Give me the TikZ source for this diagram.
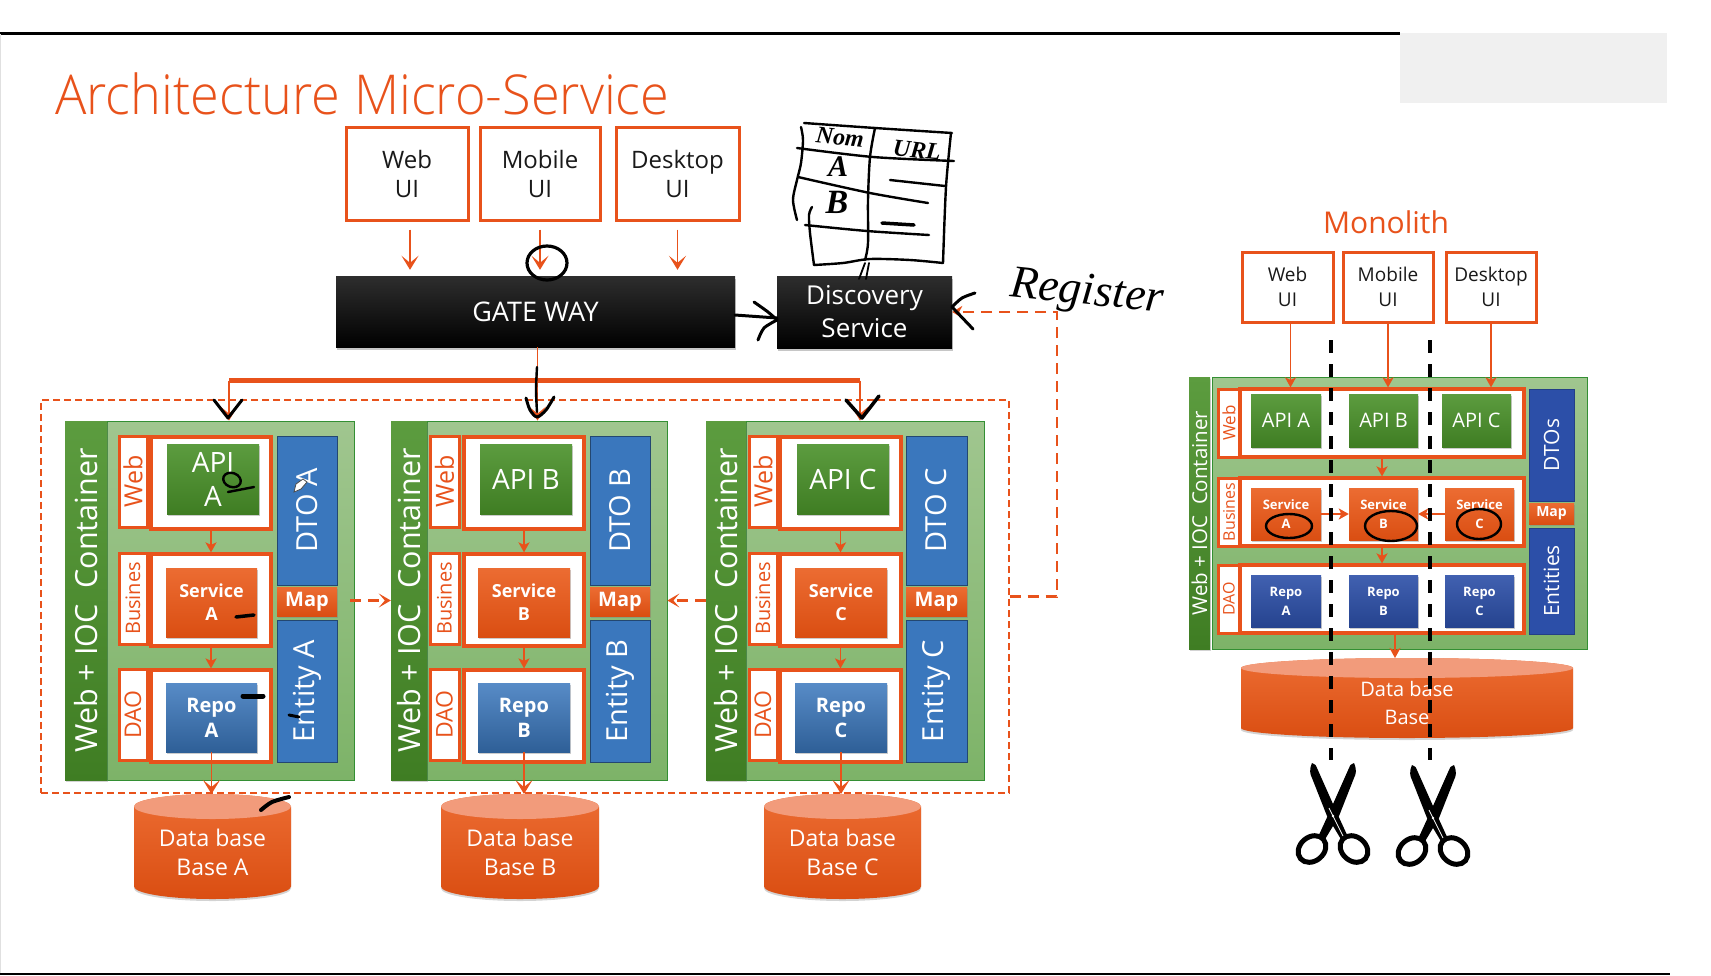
\documentclass[tikz,border=0pt]{standalone}
\usepackage{fontspec}
\usepackage{graphicx}
\setmainfont{Open Sans}
\newfontfamily\lightfont{Open Sans Light}
\newfontfamily\handfont{Liberation Serif}
\usetikzlibrary{arrows.meta,shadows}
\definecolor{msorange}{HTML}{E8521B}
\definecolor{msblue}{HTML}{3A77BD}
\definecolor{monoblue}{HTML}{2C4FA8}
\definecolor{greentop}{HTML}{5C9C3F}
\definecolor{greenlow}{HTML}{3F7D23}
\definecolor{paneltop}{HTML}{A0C68F}
\definecolor{panellow}{HTML}{7DB368}
\definecolor{ortop}{HTML}{EC6C32}
\definecolor{ormid}{HTML}{F45C1C}
\definecolor{orlow}{HTML}{DA4E12}
\newcommand{\fsize}[2]{\fontsize{#1pt}{#2pt}\selectfont}
\newcommand{\boxnode}[7]{%
  \pgfmathsetmacro\rw{#5-#3}\pgfmathsetmacro\rh{#6-#4}%
  \node[#1,minimum width=\rw pt,minimum height=\rh pt] (#2) at ({(#3+#5)/2},{(#4+#6)/2}) {#7};}
% cylinder: name, left, top, right, bottom, end radius, font, text
\newcommand{\dbnode}[8]{%
  \pgfmathsetmacro\rr{(#4-#2)/2}\pgfmathsetmacro\rt{#3+#6}\pgfmathsetmacro\rb{#5-#6}%
  \shade[dbbody] (#2,\rt) -- (#2,\rb) arc[start angle=180,end angle=360,x radius=\rr pt,y radius=#6pt]
    -- (#4,\rt) arc[start angle=0,end angle=180,x radius=\rr pt,y radius=#6pt] -- cycle;
  \fill[dbtop] ({(#2+#4)/2},\rt) ellipse[x radius=\rr pt,y radius=#6pt];
  \coordinate (top#1) at ({(#2+#4)/2},#3);
  \boxnode{dbtext,font=#7}{#1}{#2}{\rt}{#4}{#5}{#8}}
\newcommand{\scissorpic}[2]{%
  \begin{scope}[shift={(#1,#2)}]
    \foreach \sd in {-1,1}{
      \begin{scope}[xscale=\sd]
        \fill[black] (-21,-53) .. controls (-24,-46) and (-23,-42) .. (-21,-38) -- (-6,0) -- (9,25) -- (15,21) -- (4,-3) -- (-16,-48) .. controls (-17,-51) .. (-21,-53) -- cycle;
        \draw[black,line width=5pt] (21,33) ellipse[x radius=15pt,y radius=12pt,rotate=-40];
      \end{scope}
    }
    \draw[white,line width=.8pt] (-4,-8) -- (10,20);
    \fill[white] (0,0) circle (1.3pt);
  \end{scope}}
\tikzset{
  uibox/.style={draw=msorange,line width=3pt,fill=white,align=center,inner sep=0pt,text=black!90},
  blackbox/.style={top color=black!82,middle color=black,bottom color=black,text=white,align=center,inner sep=0pt,
    drop shadow={shadow xshift=1pt,shadow yshift=-3pt,opacity=.45}},
  greenbar/.style={top color=greentop,bottom color=greenlow,inner sep=0pt,
    drop shadow={shadow xshift=1pt,shadow yshift=-2pt,opacity=.35}},
  panel/.style={draw=green!45!black!80!white,line width=.8pt,top color=paneltop,bottom color=panellow,inner sep=0pt},
  labbox/.style={draw=msorange,line width=3pt,fill=white,text=msorange,inner sep=0pt},
  rowbox/.style={draw=msorange,line width=3.2pt,fill=white,inner sep=0pt},
  tile/.style={text=white,align=center,inner sep=0pt,drop shadow={shadow xshift=1pt,shadow yshift=-2pt,opacity=.4}},
  apitile/.style={tile,top color=greentop,bottom color=greenlow},
  svctile/.style={tile,top color=ortop,middle color=ormid,bottom color=orlow},
  repotile/.style={tile,top color=msblue!85!white,middle color=msblue!90!blue,bottom color=msblue!80!black},
  side/.style={fill=msblue,draw=msblue!60!black,line width=1pt,text=white,inner sep=0pt},
  monoside/.style={fill=monoblue,draw=monoblue!80!black,line width=1pt,text=white,inner sep=0pt},
  maptile/.style={tile,top color=ortop,bottom color=orlow},
  dbbody/.style={top color=ortop,middle color=ormid,bottom color=orlow,
    drop shadow={shadow xshift=0pt,shadow yshift=-2pt,opacity=.35}},
  dbtop/.style={fill=msorange!58!white},
  dbtext/.style={text=white,align=center,inner sep=0pt},
  flow/.style={draw=msorange,line width=1.8pt,-{Stealth[length=14pt,width=17pt,inset=7pt]}},
  flowin/.style={draw=msorange,line width=1.8pt,-{Stealth[length=10pt,width=11pt,inset=2.5pt]}},
  dashflow/.style={draw=msorange,line width=2.4pt,dash pattern=on 11pt off 7pt},
  blackcut/.style={draw=black,line width=3.2pt,dash pattern=on 13pt off 11pt},
  hand/.style={draw=black,line width=2.4pt,line cap=round,line join=round},
  handtext/.style={inner sep=0pt,text=black},
}
\begin{document}
\begin{tikzpicture}[x=1pt,y=-1pt]
\useasboundingbox (0,0) rectangle (1711,975);
\draw[black,line width=2.2pt] (0,33.5) -- (1400,33.5);
\draw[black,line width=2.8pt] (0,974) -- (1670,974);
\draw[black!12,line width=.8pt] (.5,34) -- (.5,973);
\fill[black!6] (1400,33) rectangle (1667,103);
\node[anchor=base west,inner sep=0pt,text=msorange,font=\lightfont\fsize{55}{55}] (title) at (55,114) {\scalebox{.95}[1]{Architecture Micro-Service}};
% micro service side
\boxnode{uibox,font=\fsize{24}{29}}{uiWeb}{346}{127}{468}{220}{Web\\UI}
\boxnode{uibox,font=\fsize{24}{29}}{uiMobile}{480}{127}{600}{220}{Mobile\\UI}
\boxnode{uibox,font=\fsize{24}{29}}{uiDesktop}{616}{127}{739}{220}{Desktop\\UI}
\boxnode{blackbox,font=\fsize{27}{33}}{gateWay}{336}{276}{735}{347}{GATE WAY}
\boxnode{blackbox,font=\fsize{26}{33}}{discovery}{777}{276}{952}{348}{\raisebox{-1pt}{Discovery}\\\raisebox{-1pt}{Service}}
\draw[flow,shorten <=8pt,shorten >=6pt] ([xshift=3pt]uiWeb.south) -- ([xshift=3pt]uiWeb.south |- gateWay.north);
\draw[flow,shorten <=8pt,shorten >=6pt] (uiMobile.south) -- (uiMobile.south |- gateWay.north);
\draw[flow,shorten <=8pt,shorten >=6pt] (uiDesktop.south) -- (uiDesktop.south |- gateWay.north);
\boxnode{draw=msorange,line width=1.4pt,dash pattern=on 7pt off 4pt}{svcZone}{41}{400}{1009}{793}{}
\foreach \n/\barL/\barR/\boxR/\labL/\labR/\whiteL/\whiteR/\apiL/\apiR/\svcL/\svcR/\dtoL/\dtoR/\dbL/\dbR/\apitxt in {
  A/65/107/354/119/147/151/271/167/259/166/257/277/337/134/291/{API\\A},
  B/391/427/667/430/459/464/584/480/572/478/570/590/650/441/599/{API B},
  C/706/746/984/749/777/780/901/797/889/795/887/906/967/764/921/{API C}}{
  \boxnode{panel}{box\n}{\barR}{421}{\boxR}{780}{}
  \boxnode{greenbar,text=white,font=\fsize{30.5}{31}}{bar\n}{\barL}{421}{\barR}{780}{\rotatebox{90}{Web + IOC~~Container}}
  \boxnode{labbox,font=\fsize{25}{25}}{labWeb\n}{\labL}{436}{\labR}{527}{\rotatebox{90}{Web}}
  \boxnode{labbox,font=\fsize{20}{20}}{labBus\n}{\labL}{553}{\labR}{644}{\rotatebox{90}{Busines}}
  \boxnode{labbox,font=\fsize{23}{23}}{labDao\n}{\labL}{669}{\labR}{760}{\rotatebox{90}{DAO}}
  \boxnode{rowbox}{rowWeb\n}{\whiteL}{437}{\whiteR}{529}{}
  \boxnode{rowbox}{rowBus\n}{\whiteL}{554}{\whiteR}{646}{}
  \boxnode{rowbox}{rowDao\n}{\whiteL}{670}{\whiteR}{762}{}
  \boxnode{apitile,font=\fsize{28}{34}}{api\n}{\apiL}{444}{\apiR}{514}{\apitxt}
  \boxnode{svctile,font=\bfseries\fsize{18}{23}}{svc\n}{\svcL}{568}{\svcR}{637}{Service\\\n}
  \boxnode{repotile,font=\bfseries\fsize{20}{25}}{repo\n}{\svcL}{683}{\svcR}{752}{Repo\\\n}
  \boxnode{side,font=\fsize{29}{29}}{dto\n}{\dtoL}{436}{\dtoR}{585}{\rotatebox{90}{DTO \n}}
  \boxnode{maptile,font=\bfseries\fsize{20}{20}}{map\n}{\dtoL}{587}{\dtoR}{616}{Map}
  \boxnode{side,font=\fsize{29}{29}}{ent\n}{\dtoL}{620}{\dtoR}{762}{\rotatebox{90}{Entity \n}}
  \draw[flowin] (rowWeb\n.south) -- (rowBus\n.north);
  \draw[flowin] (rowBus\n.south) -- (rowDao\n.north);
  \dbnode{db\n}{\dbL}{794}{\dbR}{899}{12.5}{\fsize{23}{29}}{Data base\\Base \n}
  \draw[flow] (repo\n.south) -- (repo\n.south |- topdb\n);
}
\coordinate (mapOut) at (350,600.5);
\draw[dashflow,-{Stealth[length=12pt,width=14pt,inset=6pt]}] (mapOut) -- (barB.west);
\draw[dashflow,-{Stealth[length=12pt,width=14pt,inset=6pt]}] (barC.west) -- (boxB.east);
\coordinate (busL) at (229,380.5);
\coordinate (busR) at (860,380.5);
\draw[msorange,line width=1.5pt] ([xshift=2pt]gateWay.south) -- ([xshift=2pt]gateWay.south |- busL);
\draw[msorange,line width=4.5pt] (busL) -- (busR);
\draw[flow] (busL) -- (busL |- boxA.north);
\draw[flow] ([xshift=2pt]gateWay.south |- busL) -- ([xshift=2pt]gateWay.south |- boxB.north);
\draw[flow] (busR) -- (busR |- boxC.north);
\draw[dashflow,-{Stealth[length=10pt,width=12pt,inset=3pt]}] (svcZone.east) -- ++(47,0) |- (discovery.east);
% monolith side
\node[inner sep=0pt,text=msorange,font=\fsize{30}{30}] (monoTitle) at (1386,222) {Monolith};
\boxnode{uibox,font=\fsize{19}{25}}{monoUiWeb}{1242}{252}{1333}{322}{Web\\UI}
\boxnode{uibox,font=\fsize{19}{25}}{monoUiMobile}{1343}{252}{1433}{322}{Mobile\\UI}
\boxnode{uibox,font=\fsize{19}{25}}{monoUiDesktop}{1446}{252}{1536}{322}{Desktop\\UI}
\boxnode{panel}{monoBox}{1212}{377}{1587}{649}{}
\boxnode{greenbar,text=white,font=\fsize{20.5}{21}}{monoBar}{1189}{377}{1210}{649}{\rotatebox{90}{Web + IOC~~Container}}
\boxnode{labbox,font=\fsize{17}{17}}{monoLabWeb}{1218}{389}{1240}{457}{\rotatebox{90}{Web}}
\boxnode{labbox,font=\fsize{16}{16}}{monoLabBus}{1218}{478}{1240}{546}{\rotatebox{90}{Busines}}
\boxnode{labbox,font=\fsize{16}{16}}{monoLabDao}{1218}{565}{1240}{633}{\rotatebox{90}{DAO}}
\boxnode{rowbox}{monoRowWeb}{1240}{389}{1524}{457}{}
\boxnode{rowbox}{monoRowBus}{1240}{478}{1524}{546}{}
\boxnode{rowbox}{monoRowDao}{1240}{565}{1524}{633}{}
\foreach \n/\apiL/\apiR/\svcL/\svcR in {A/1251/1321/1251/1321,B/1349/1418/1349/1418,C/1442/1511/1445/1514}{
  \boxnode{apitile,font=\fsize{20}{20}}{monoApi\n}{\apiL}{394}{\apiR}{447}{API \n}
  \boxnode{svctile,font=\bfseries\fsize{13}{19}}{monoSvc\n}{\svcL}{488}{\svcR}{540}{Service\\\n}
  \boxnode{repotile,font=\bfseries\fsize{13}{19},top color=monoblue!90!white,middle color=monoblue,bottom color=monoblue!85!black}{monoRepo\n}{\svcL}{575}{\svcR}{627}{Repo\\\n}
}
\boxnode{monoside,font=\fsize{21}{21}}{monoDto}{1529}{389}{1574}{501}{\rotatebox{90}{DTOs}}
\boxnode{maptile,font=\bfseries\fsize{14}{14}}{monoMap}{1529}{503}{1574}{524}{Map}
\boxnode{monoside,font=\fsize{21}{21}}{monoEnt}{1529}{528}{1574}{634}{\rotatebox{90}{Entities}}
\draw[flowin] ([xshift=3pt]monoUiWeb.south) -- ([xshift=3pt]monoUiWeb.south |- monoRowWeb.north);
\draw[flowin] (monoUiMobile.south) -- (monoUiMobile.south |- monoRowWeb.north);
\draw[flowin] (monoUiDesktop.south) -- (monoUiDesktop.south |- monoRowWeb.north);
\draw[flowin] (monoRowWeb.south) -- (monoRowBus.north);
\draw[flowin] (monoRowBus.south) -- (monoRowDao.north);
\draw[flowin] (monoSvcA.east) -- (monoSvcB.west);
\draw[flowin] (monoSvcC.west) -- (monoSvcB.east);
\dbnode{monoDb}{1241}{658}{1573}{738}{10}{\fsize{20}{28}}{Data base\\Base}
\draw[flowin] ([xshift=13pt]monoRowDao.south) -- ([xshift=13pt]monoRowDao.south |- topmonoDb);
\coordinate (cutOneTop) at (1331,340);
\coordinate (cutOneEnd) at (1331,760);
\coordinate (cutTwoTop) at (1430,340);
\coordinate (cutTwoEnd) at (1430,760);
\draw[blackcut] (cutOneTop) -- (cutOneEnd);
\draw[blackcut] (cutTwoTop) -- (cutTwoEnd);
\scissorpic{1333}{816}
\scissorpic{1433}{818}
% ink on top of the slide
\draw[hand,line width=3pt] (735,315) -- (777,318);
\draw[hand,line width=3pt] plot[smooth] coordinates {(754,302) (768,312) (777,320)};
\draw[hand,line width=3pt] plot[smooth] coordinates {(777,320) (764,328) (758,340)};
\draw[hand,line width=3pt] plot[smooth] coordinates {(975,293) (962,298) (952,307)};
\draw[hand,line width=3pt] (952,307) -- (973,329);
\draw[hand,line width=3.2pt] (547,263) ellipse[x radius=20pt,y radius=17pt];
\draw[hand] plot[smooth] coordinates {(537,367) (536,390) (537,412)};
\draw[hand,line width=3pt] (214,400) -- (228,418) -- (242,400);
\draw[hand,line width=3pt] plot[smooth] coordinates {(526,398) (530,410) (537,417) (546,410) (554,397)};
\draw[hand,line width=3.5pt] (846,400) -- (862,418) -- (879,396);
% table
\draw[hand] plot[smooth] coordinates {(804,123) (875,128) (952,133)};
\draw[hand] plot[smooth] coordinates {(801,127) (803,140) (801,163) (797,180) (793,200) (797,220)};
\draw[hand] plot[smooth] coordinates {(797,148) (873,157) (954,161)};
\draw[hand] plot[smooth] coordinates {(875,128) (870,157) (868,200) (868,243) (865,260)};
\draw[hand] plot[smooth] coordinates {(951,133) (946,187) (943,263)};
\draw[hand] plot[smooth] coordinates {(798,177) (870,193) (928,203)};
\draw[hand] plot[smooth] coordinates {(805,225) (867,231) (929,235)};
\draw[hand] plot[smooth] coordinates {(812,207) (809,215) (810,233) (814,265)};
\draw[hand] plot[smooth] coordinates {(814,265) (843,263) (870,259) (910,260) (943,263)};
\draw[hand] (890,180) -- (945,186);
\draw[hand,line width=3.5pt] (882,223) -- (914,225);
\draw[hand,line width=1.8pt] (865,263) -- (859,279);
\draw[hand,line width=1.8pt] (869,263) -- (866,279);
\node[handtext,font=\handfont\bfseries\itshape\fsize{24}{24},rotate=-6] (inkNom) at (840,137) {Nom};
\node[handtext,font=\handfont\bfseries\itshape\fsize{24}{24},rotate=-6] (inkUrl) at (917,150) {URL};
\node[handtext,font=\handfont\bfseries\itshape\fsize{30}{30}] (inkA) at (838,167) {A};
\node[handtext,font=\handfont\bfseries\itshape\fsize{34}{34}] (inkB) at (837,202) {B};
\node[handtext,font=\handfont\itshape\fsize{46}{46},rotate=-6] (inkRegister) at (1087,294) {Register};
% marks on the A column
\draw[hand] (232,480) ellipse[x radius=9pt,y radius=7pt,rotate=-20];
\draw[hand] (228,492) -- (254,487);
\draw[hand,line width=3.5pt] (236,617) -- (254,615);
\draw[hand,line width=5pt] (243,696) -- (263,696);
\draw[hand,line width=3pt] (289,715) -- (299,717);
\draw[hand,line width=4pt] plot[smooth] coordinates {(261,810) (272,802) (289,797)};
\filldraw[fill=white,draw=black!70,line width=.8pt] (294,492) -- (296,484) -- (303,479) -- (307,482) -- (301,489) -- cycle;
% circles on the monolith
\draw[hand] (1289,526) ellipse[x radius=23pt,y radius=12pt];
\draw[hand] (1391,526) ellipse[x radius=26pt,y radius=15pt];
\draw[hand] (1479,524) ellipse[x radius=22pt,y radius=15pt];
\end{tikzpicture}
\end{document}
